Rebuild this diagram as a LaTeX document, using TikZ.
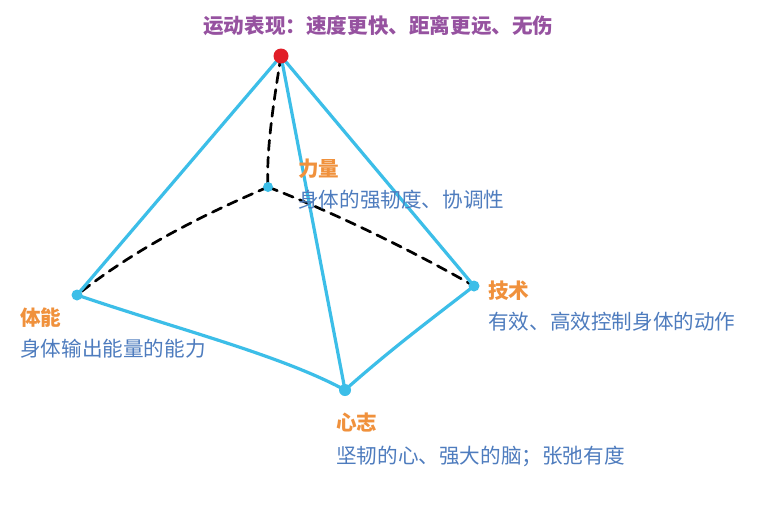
\documentclass[tikz,border=0pt]{standalone}
\usepackage{fontspec}
\newfontfamily\cjk{Noto Sans CJK SC}
\definecolor{edgeblue}{RGB}{60,190,232}
\definecolor{titlepurple}{RGB}{150,82,160}
\definecolor{headorange}{RGB}{240,145,60}
\definecolor{textblue}{RGB}{78,124,190}
\definecolor{dotred}{RGB}{225,30,40}
\tikzset{
  edge/.style={draw=edgeblue, line width=3.2pt, line cap=round, line join=round},
  hidden/.style={draw=black, line width=2.7pt, dash pattern=on 10pt off 7pt, line cap=round},
  vdot/.style={circle, fill=edgeblue, inner sep=0pt, minimum size=11pt},
  topdot/.style={circle, fill=dotred, inner sep=0pt, minimum size=15pt},
  head/.style={anchor=west, inner sep=0pt, text=headorange, font=\cjk\fontsize{20.6}{23}\selectfont\bfseries},
  desc/.style={anchor=west, inner sep=0pt, text=textblue, font=\cjk\fontsize{20.6}{23}\selectfont},
  titletext/.style={anchor=west, inner sep=0pt, text=titlepurple, font=\cjk\fontsize{20.6}{23}\selectfont\bfseries}
}
\begin{document}
\begin{tikzpicture}[x=1pt,y=-1pt]
\useasboundingbox[fill=white] (0,0) rectangle (757,517);
\coordinate (T) at (281,56);
\coordinate (B) at (268,187);
\coordinate (L) at (77,295);
\coordinate (R) at (474,286);
\coordinate (D) at (345,390);
% hidden edges
\draw[hidden] (T) .. controls (274,100) and (266,150) .. (B);
\draw[hidden] (B) .. controls (210,212) and (140,245) .. (L);
\draw[hidden] (B) .. controls (340,215) and (420,255) .. (R);
% visible edges
\draw[edge] (T) -- (L);
\draw[edge] (T) -- (R);
\draw[edge] (T) -- (D);
\draw[edge] (L) .. controls (180,330) and (280,355) .. (D);
\draw[edge] (D) .. controls (390,350) and (430,320) .. (R);
% vertex dots
\node[topdot] (top) at (T) {};
\node[vdot, minimum size=10pt] (back) at (B) {};
\node[vdot] (left) at (L) {};
\node[vdot] (right) at (R) {};
\node[vdot, minimum size=12pt] (bottom) at (D) {};
% texts
\node[titletext] (title) at (203,26) {运动表现：速度更快、距离更远、无伤};
\node[head] (h1) at (298,169) {力量};
\node[desc] (d1) at (298,200) {身体的强韧度、协调性};
\node[head] (h2) at (488,291) {技术};
\node[desc] (d2) at (488,322) {有效、高效控制身体的动作};
\node[head] (h3) at (20,318) {体能};
\node[desc] (d3) at (20,349) {身体输出能量的能力};
\node[head] (h4) at (336,423) {心志};
\node[desc] (d4) at (336,456) {坚韧的心、强大的脑；张弛有度};
\end{tikzpicture}
\end{document}
